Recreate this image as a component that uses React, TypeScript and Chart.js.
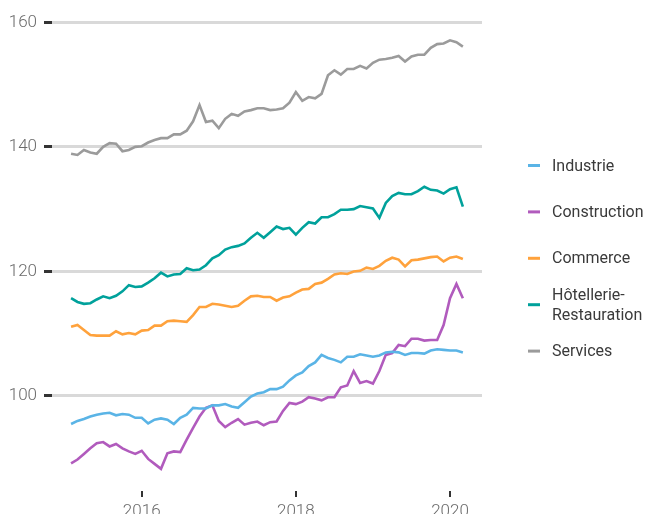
import React, { useEffect, useRef } from "react";
import { Chart, registerables } from "chart.js";

Chart.register(...registerables);

const months = [
  "2015-02", "2015-03", "2015-04", "2015-05", "2015-06", "2015-07", "2015-08", "2015-09", "2015-10", "2015-11", "2015-12",
  "2016-01", "2016-02", "2016-03", "2016-04", "2016-05", "2016-06", "2016-07", "2016-08", "2016-09", "2016-10", "2016-11", "2016-12",
  "2017-01", "2017-02", "2017-03", "2017-04", "2017-05", "2017-06", "2017-07", "2017-08", "2017-09", "2017-10", "2017-11", "2017-12",
  "2018-01", "2018-02", "2018-03", "2018-04", "2018-05", "2018-06", "2018-07", "2018-08", "2018-09", "2018-10", "2018-11", "2018-12",
  "2019-01", "2019-02", "2019-03", "2019-04", "2019-05", "2019-06", "2019-07", "2019-08", "2019-09", "2019-10", "2019-11", "2019-12",
  "2020-01", "2020-02", "2020-03",
];

const industrie = [
  95.5, 96.0, 96.3, 96.7, 97.0, 97.2, 97.3, 96.9, 97.1, 97.0, 96.5, 96.5,
  95.6, 96.2, 96.4, 96.2, 95.5, 96.5, 97.0, 98.1, 98.0, 98.0, 98.5, 98.5,
  98.7, 98.3, 98.1, 99.0, 99.9, 100.4, 100.6, 101.1, 101.1, 101.5, 102.5, 103.3,
  103.8, 104.8, 105.4, 106.6, 106.1, 105.8, 105.4, 106.3, 106.3, 106.7, 106.5, 106.3,
  106.5, 107.0, 107.1, 107.0, 106.6, 106.9, 106.9, 106.8, 107.3, 107.5, 107.4, 107.3,
  107.3, 107.0,
];

const construction = [
  89.2, 89.8, 90.7, 91.6, 92.4, 92.6, 91.9, 92.3, 91.6, 91.1, 90.7, 91.2,
  89.9, 89.1, 88.3, 90.8, 91.1, 91.0, 93.0, 94.9, 96.7, 98.1, 98.5, 96.0,
  95.0, 95.7, 96.3, 95.4, 95.7, 95.9, 95.3, 95.8, 95.9, 97.6, 98.9, 98.7,
  99.1, 99.8, 99.6, 99.3, 99.8, 99.8, 101.4, 101.7, 104.0, 102.1, 102.4, 102.0,
  104.0, 106.6, 106.9, 108.2, 108.0, 109.2, 109.2, 108.9, 109.0, 109.0, 111.4, 115.7,
  118.0, 115.7,
];

const commerce = [
  111.1, 111.4, 110.6, 109.8, 109.7, 109.7, 109.7, 110.4, 109.9, 110.1, 109.9, 110.5,
  110.6, 111.3, 111.3, 112.0, 112.1, 112.0, 111.9, 113.0, 114.3, 114.3, 114.8, 114.7,
  114.5, 114.3, 114.5, 115.3, 116.0, 116.1, 115.9, 115.9, 115.3, 115.8, 116.0, 116.6,
  117.1, 117.2, 118.0, 118.2, 118.8, 119.5, 119.7, 119.6, 120.0, 120.1, 120.6, 120.4,
  120.9, 121.7, 122.2, 121.9, 120.8, 121.8, 121.9, 122.1, 122.3, 122.4, 121.6, 122.2,
  122.4, 122.0,
];

const hotellerie = [
  115.7, 115.1, 114.8, 114.9, 115.5, 116.0, 115.7, 116.1, 116.8, 117.8, 117.5, 117.6,
  118.2, 118.9, 119.8, 119.2, 119.5, 119.6, 120.5, 120.2, 120.3, 121.0, 122.1, 122.6,
  123.5, 123.9, 124.1, 124.5, 125.4, 126.2, 125.4, 126.3, 127.2, 126.8, 127.0, 125.9,
  127.0, 127.9, 127.7, 128.7, 128.7, 129.2, 129.9, 129.9, 130.0, 130.5, 130.3, 130.1,
  128.6, 131.0, 132.1, 132.6, 132.4, 132.4, 132.9, 133.6, 133.1, 133.0, 132.5, 133.2,
  133.5, 130.4,
];

const services = [
  138.9, 138.7, 139.5, 139.1, 138.9, 140.0, 140.6, 140.5, 139.3, 139.5, 140.0, 140.1,
  140.7, 141.1, 141.4, 141.4, 142.0, 142.0, 142.6, 144.1, 146.7, 144.0, 144.2, 143.0,
  144.5, 145.3, 145.0, 145.7, 145.9, 146.2, 146.2, 145.9, 146.0, 146.2, 147.1, 148.8,
  147.4, 148.0, 147.8, 148.5, 151.5, 152.3, 151.6, 152.5, 152.5, 153.0, 152.6, 153.5,
  154.0, 154.1, 154.3, 154.6, 153.7, 154.5, 154.8, 154.8, 155.9, 156.5, 156.6, 157.1,
  156.8, 156.1,
];

const seriesLabels = ["Industrie", "Construction", "Commerce", "Hôtellerie-\nRestauration", "Services"];
const seriesValues = [industrie, construction, commerce, hotellerie, services];
const seriesColors = ["#5ab4e6", "#b15bbd", "#ffa23c", "#00a19b", "#9b9b9b"];

const yTicks = [100, 120, 140, 160];
const xTicks = [2016, 2018, 2020];

function monthToX(m: string): number {
  const [y, mo] = m.split("-").map(Number);
  return y + (mo - 1) / 12;
}

const CANVAS_OFFSET = 29;

const sideLegend = {
  id: "sideLegend",
  afterDraw(chart: any) {
    const ctx = chart.ctx as CanvasRenderingContext2D;
    ctx.save();
    ctx.font = "16px Roboto";
    ctx.textBaseline = "middle";
    ctx.textAlign = "left";
    chart.data.datasets.forEach((ds: any, i: number) => {
      const cy = 165.5 + i * 46.4 + CANVAS_OFFSET;
      ctx.strokeStyle = ds.borderColor;
      ctx.lineWidth = 3;
      ctx.beginPath();
      ctx.moveTo(528, cy);
      ctx.lineTo(540, cy);
      ctx.stroke();
      ctx.fillStyle = "#3a3a3a";
      const lines = String(ds.label).split("\n");
      const lh = 20;
      lines.forEach((ln, j) => {
        ctx.fillText(ln, 552, cy + 1 + (j - (lines.length - 1) / 2) * lh);
      });
    });
    ctx.restore();
  },
};

export default function App() {
  const ref = useRef<HTMLCanvasElement>(null);

  useEffect(() => {
    if (!ref.current) return;
    const datasets = seriesValues.map((vals, i) => ({
      label: seriesLabels[i],
      data: vals.map((v, k) => ({ x: monthToX(months[k]), y: v })),
      borderColor: seriesColors[i],
      backgroundColor: seriesColors[i],
      borderWidth: 2.6,
      pointRadius: 0,
      tension: 0,
      fill: false,
    }));
    const chart = new Chart(ref.current, {
      type: "line",
      data: { datasets },
      plugins: [sideLegend],
      options: {
        animation: false,
        responsive: false,
        devicePixelRatio: 1,
        layout: { padding: { top: 10, right: 168, bottom: 0, left: 0 } },
        plugins: { legend: { display: false }, tooltip: { enabled: false } },
        scales: {
          x: {
            type: "linear",
            min: 2014.836,
            max: 2020.415,
            afterBuildTicks: (s: any) => {
              s.ticks = xTicks.map((v) => ({ value: v }));
            },
            afterFit: (s: any) => {
              s.height = 54;
              s.paddingLeft = 0;
              s.paddingRight = 0;
            },
            ticks: {
              callback: (v: any) => String(v),
              font: { family: "Roboto", size: 17, weight: "300" },
              color: "#6a6a6a",
              padding: 5,
              maxRotation: 0,
              autoSkip: false,
            },
            grid: {
              drawOnChartArea: false,
              tickLength: 6,
              tickColor: "#333",
              tickWidth: 2,
              lineWidth: 2,
            },
            border: { display: false },
          },
          y: {
            min: 84.747,
            max: 166.63,
            afterBuildTicks: (s: any) => {
              s.ticks = yTicks.map((v) => ({ value: v }));
            },
            afterFit: (s: any) => {
              s.width = 52;
              s.paddingTop = 0;
              s.paddingBottom = 0;
            },
            ticks: {
              font: { family: "Roboto", size: 17, weight: "300" },
              color: "#6a6a6a",
              padding: 7,
            },
            grid: {
              color: "#d9d9d9",
              lineWidth: 3,
              tickColor: "#333",
              tickLength: 8,
              tickWidth: 3,
            },
            border: { display: false },
          },
        },
      },
    } as any);
    return () => chart.destroy();
  }, []);

  return (
    <div style={{ position: "fixed", left: 0, top: 0, width: 650, height: 514, overflow: "hidden", background: "#fff" }}>
      <canvas
        ref={ref}
        width={650}
        height={574}
        style={{ position: "absolute", left: 0, top: -CANVAS_OFFSET, width: 650, height: 574 }}
      />
    </div>
  );
}
